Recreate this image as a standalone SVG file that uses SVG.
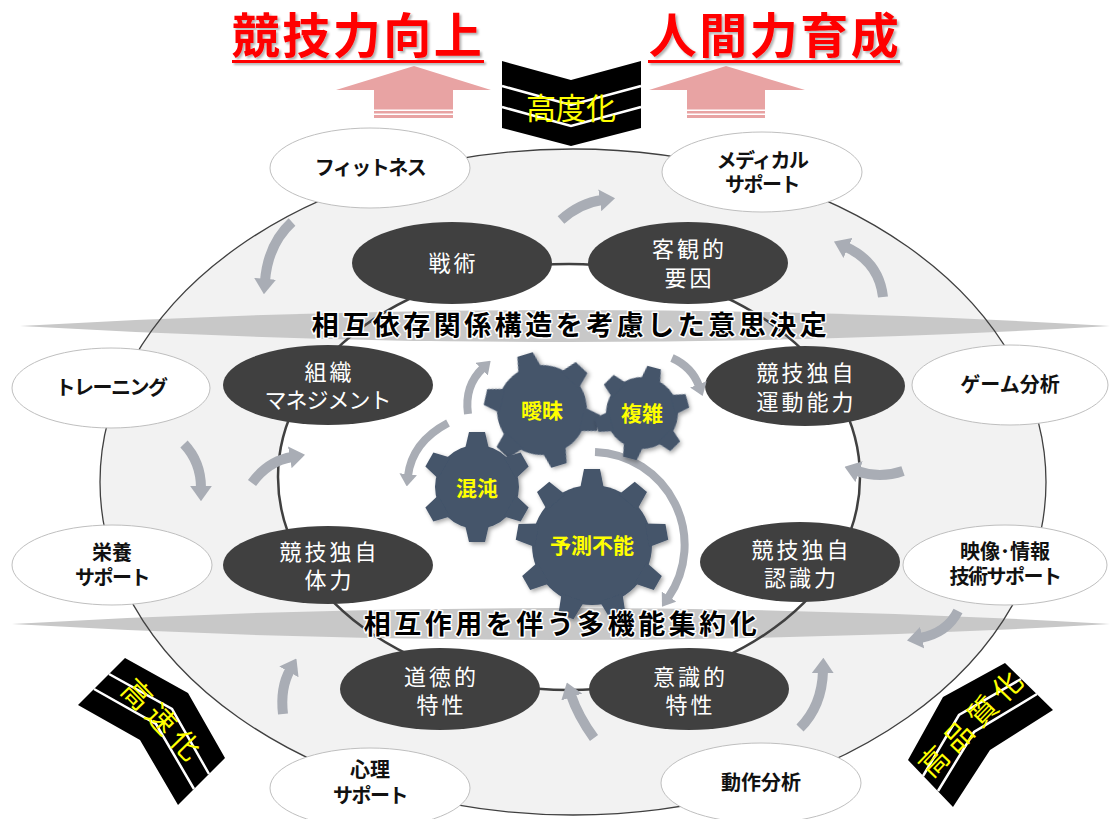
<svg xmlns="http://www.w3.org/2000/svg" xmlns:xlink="http://www.w3.org/1999/xlink" width="1110" height="819" viewBox="0 0 1110 819">
  <defs>
    <style>
      text { font-family: "Liberation Sans", "Noto Sans CJK JP", sans-serif; text-anchor: middle; dominant-baseline: central; }
      .wn { fill: #ffffff; stroke: #bfbfbf; stroke-width: 1; }
      .dn { fill: #404040; }
      .wt { font-size: 20px; font-weight: bold; fill: #111111; }
      .kt { letter-spacing: -1.5px; }
      .dt { font-size: 22px; fill: #ffffff; letter-spacing: 3px; }
      .dt.tight { letter-spacing: -1px; }
      .gear { fill: #44546a; }
      .gt { font-size: 21px; font-weight: bold; fill: #ffff00; }
      .arr { fill: none; stroke: #a9adb5; stroke-width: 10; marker-end: url(#ah); }
      .arr-s { stroke-width: 8; }
      .band { fill: #c8c8c8; }
      .bt { font-size: 27px; font-weight: bold; fill: #000000; letter-spacing: 3.5px; stroke: #ffffff; stroke-width: 3; paint-order: stroke; stroke-linejoin: round; }
      .title { font-size: 48px; font-weight: bold; fill: #ff0000; letter-spacing: 2.5px; }
      .uline { fill: #ff0000; }
      .pink { fill: #e8a3a3; }
      .road { fill: #000000; }
      .lane { fill: none; stroke: #ffffff; stroke-width: 2.5; }
      .rt { font-size: 29px; fill: #ffff00; letter-spacing: 6px; }
    </style>
    <marker id="ah" viewBox="0 0 7 10" refX="1" refY="5" markerWidth="1.54" markerHeight="2.2" orient="auto">
      <path d="M0,0 L7,5 L0,10 Z" fill="#a9adb5"/>
    </marker>
    <filter id="gs" x="-20%" y="-20%" width="150%" height="150%">
      <feDropShadow dx="2" dy="2" stdDeviation="2" flood-color="#000" flood-opacity="0.35"/>
    </filter>
    <filter id="ts" x="-10%" y="-20%" width="120%" height="150%">
      <feDropShadow dx="2" dy="2" stdDeviation="1.2" flood-color="#000" flood-opacity="0.3"/>
    </filter>
  </defs>

  <rect width="1110" height="819" fill="#ffffff"/>

  <!-- headline goals -->
  <g id="title-left" filter="url(#ts)">
    <text class="title" x="358" y="36">競技力向上</text>
    <rect class="uline" x="232" y="60" width="252" height="3"/>
  </g>
  <g id="title-right" filter="url(#ts)">
    <text class="title" x="775" y="36">人間力育成</text>
    <rect class="uline" x="648" y="60" width="252" height="3"/>
  </g>

  <!-- upward block arrows -->
  <g id="up-arrow-left">
    <polygon class="pink" points="414,66 491,90 453,90 453,118 374,118 374,90 336,90"/>
    <rect x="374" y="109.5" width="79" height="1.5" fill="#fff"/>
    <rect x="374" y="113.5" width="79" height="1.5" fill="#fff"/>
  </g>
  <g id="up-arrow-right">
    <polygon class="pink" points="726,66 805,90 765,90 765,118 687,118 687,90 649,90"/>
    <rect x="687" y="109.5" width="78" height="1.5" fill="#fff"/>
    <rect x="687" y="113.5" width="78" height="1.5" fill="#fff"/>
  </g>

  <!-- chevron 高度化 -->
  <g id="chevron-koudoka">
    <polygon fill="#000" points="502,61 571,80 641,61 641,128 571,146 502,128"/>
    <polyline class="lane" stroke-width="2.2" points="502,86 571,105 641,86"/>
    <polyline class="lane" stroke-width="2.2" points="502,107 571,126 641,107"/>
    <text x="571" y="108" font-size="30" fill="#ffff00">高度化</text>
  </g>

  <!-- rings: fills -->
  <ellipse cx="573" cy="482" rx="473" ry="333" fill="#f2f2f2"/>
  <ellipse cx="569" cy="477" rx="291" ry="213" fill="#ffffff"/>

  <!-- tapered bands -->
  <path class="band" d="M20,326 Q570,294 1110,326 Q570,358 20,326 Z"/>
  <path class="band" d="M12,624 Q560,592 1110,624 Q560,656 12,624 Z"/>

  <!-- rings: outlines -->
  <ellipse cx="573" cy="482" rx="473" ry="333" fill="none" stroke="#404040" stroke-width="1.3"/>
  <ellipse cx="569" cy="477" rx="291" ry="213" fill="none" stroke="#404040" stroke-width="2.5"/>

  <!-- roads -->
  <g id="road-kousokuka">
    <polygon class="road" points="125,658 188,693 225,758 178,805 140,740 78,705"/>
    <polyline class="lane" points="109,674 172,709 209,774"/>
    <polyline class="lane" points="94,689 156,724 194,789"/>
    <text class="rt" x="163" y="722" transform="rotate(46 163 722)">高速化</text>
  </g>
  <g id="road-kouhinshitsuka">
    <polygon class="road" points="1005,663 1053,710 990,750 953,807 908,760 943,697"/>
    <polyline class="lane" points="1021,679 959,715 923,776"/>
    <polyline class="lane" points="1037,694 974,732 938,791"/>
    <text class="rt" x="973" y="722" transform="rotate(-46 973 722)">高品質化</text>
  </g>

  <!-- outer support nodes -->
  <g id="n-fitness"><ellipse class="wn" cx="370" cy="168" rx="100" ry="40"/><text class="wt kt" x="370" y="168">フィットネス</text></g>
  <g id="n-medical"><ellipse class="wn" cx="762" cy="172" rx="100" ry="40"/><text class="wt kt" x="762" y="161">メディカル</text><text class="wt kt" x="762" y="185">サポート</text></g>
  <g id="n-training"><ellipse class="wn" cx="111" cy="388" rx="99" ry="40"/><text class="wt kt" x="111" y="388">トレーニング</text></g>
  <g id="n-game"><ellipse class="wn" cx="1010" cy="385" rx="98" ry="40"/><text class="wt" x="1010" y="385">ゲーム分析</text></g>
  <g id="n-nutrition"><ellipse class="wn" cx="112" cy="565" rx="100" ry="40"/><text class="wt" x="112" y="553">栄養</text><text class="wt kt" x="112" y="578">サポート</text></g>
  <g id="n-video"><ellipse class="wn" cx="1005" cy="565" rx="102" ry="40"/><text class="wt" x="1005" y="552">映像･情報</text><text class="wt kt" x="1005" y="577">技術サポート</text></g>
  <g id="n-mental"><ellipse class="wn" cx="370" cy="788" rx="100" ry="40"/><text class="wt" x="370" y="770">心理</text><text class="wt kt" x="370" y="796">サポート</text></g>
  <g id="n-motion"><ellipse class="wn" cx="761" cy="783" rx="100" ry="40"/><text class="wt" x="761" y="783">動作分析</text></g>

  <!-- inner capability nodes -->
  <g id="n-tactics"><ellipse class="dn" cx="452" cy="263" rx="100" ry="41"/><text class="dt" x="453.5" y="263">戦術</text></g>
  <g id="n-objective"><ellipse class="dn" cx="688" cy="263" rx="100" ry="41"/><text class="dt" x="689.5" y="249">客観的</text><text class="dt" x="689.5" y="278">要因</text></g>
  <g id="n-organization"><ellipse class="dn" cx="328" cy="385" rx="105" ry="40"/><text class="dt" x="329.5" y="372">組織</text><text class="dt tight" x="327.5" y="400">マネジメント</text></g>
  <g id="n-motor"><ellipse class="dn" cx="805" cy="386" rx="100" ry="40"/><text class="dt" x="806.5" y="373">競技独自</text><text class="dt" x="806.5" y="402">運動能力</text></g>
  <g id="n-physical"><ellipse class="dn" cx="328" cy="565" rx="105" ry="39"/><text class="dt" x="329.5" y="552">競技独自</text><text class="dt" x="329.5" y="580">体力</text></g>
  <g id="n-cognition"><ellipse class="dn" cx="800" cy="562" rx="100" ry="40"/><text class="dt" x="801.5" y="550">競技独自</text><text class="dt" x="801.5" y="578">認識力</text></g>
  <g id="n-moral"><ellipse class="dn" cx="440" cy="689" rx="100" ry="41"/><text class="dt" x="441.5" y="677">道徳的</text><text class="dt" x="441.5" y="705">特性</text></g>
  <g id="n-conscious"><ellipse class="dn" cx="689" cy="689" rx="100" ry="41"/><text class="dt" x="690.5" y="677">意識的</text><text class="dt" x="690.5" y="705">特性</text></g>

  <!-- cycle arrows -->
  <g id="connectors">
    <path class="arr" d="M561,220 Q580,203 602,200"/>
    <path class="arr" d="M292,222 Q268,244 265,281"/>
    <path class="arr" d="M883,297 Q879,262 846,247"/>
    <path class="arr" d="M184,444 Q201,462 201,488"/>
    <path class="arr" d="M252,483 Q268,461 292,457"/>
    <path class="arr" d="M903,471 Q880,479 857,471"/>
    <path class="arr" d="M958,611 Q947,633 920,638"/>
    <path class="arr" d="M283,714 Q280,688 290,670"/>
    <path class="arr" d="M594,738 Q578,716 571,695"/>
    <path class="arr" d="M800,728 Q822,706 823,671"/>
    <path class="arr arr-s" d="M468,414 Q464,386 483,368"/>
    <path class="arr arr-s" d="M448,423 Q412,442 408,476"/>
    <path class="arr arr-s" d="M672,358 Q692,367 699,386"/>
    <path class="arr arr-s" d="M595,452 A93,93 0 0 1 668,598"/>
  </g>

  <!-- gears -->
  <g id="g-aimai">
    <g transform="translate(542,410) rotate(-17)" filter="url(#gs)">
      <circle class="gear" r="45"/>
      <polygon id="t6a" class="gear" points="-12,-41 -8,-58 8,-58 12,-41"/>
      <use xlink:href="#t6a" href="#t6a" transform="rotate(60)"/>
      <use xlink:href="#t6a" href="#t6a" transform="rotate(120)"/>
      <use xlink:href="#t6a" href="#t6a" transform="rotate(180)"/>
      <use xlink:href="#t6a" href="#t6a" transform="rotate(240)"/>
      <use xlink:href="#t6a" href="#t6a" transform="rotate(300)"/>
    </g>
    <text class="gt" x="542" y="410">曖昧</text>
  </g>
  <g id="g-fukuzatsu">
    <g transform="translate(642,413) rotate(15)" filter="url(#gs)">
      <circle class="gear" r="36"/>
      <polygon id="t6b" class="gear" points="-10,-32 -7,-47 7,-47 10,-32"/>
      <use xlink:href="#t6b" href="#t6b" transform="rotate(60)"/>
      <use xlink:href="#t6b" href="#t6b" transform="rotate(120)"/>
      <use xlink:href="#t6b" href="#t6b" transform="rotate(180)"/>
      <use xlink:href="#t6b" href="#t6b" transform="rotate(240)"/>
      <use xlink:href="#t6b" href="#t6b" transform="rotate(300)"/>
    </g>
    <text class="gt" x="642" y="413">複雑</text>
  </g>
  <g id="g-konton">
    <g transform="translate(477,487)" filter="url(#gs)">
      <circle class="gear" r="42"/>
      <polygon id="t6c" class="gear" points="-12,-38 -8,-55 8,-55 12,-38"/>
      <use xlink:href="#t6c" href="#t6c" transform="rotate(60)"/>
      <use xlink:href="#t6c" href="#t6c" transform="rotate(120)"/>
      <use xlink:href="#t6c" href="#t6c" transform="rotate(180)"/>
      <use xlink:href="#t6c" href="#t6c" transform="rotate(240)"/>
      <use xlink:href="#t6c" href="#t6c" transform="rotate(300)"/>
    </g>
    <text class="gt" x="477" y="488">混沌</text>
  </g>
  <g id="g-yosokufunou">
    <g transform="translate(592,545)" filter="url(#gs)">
      <circle class="gear" r="60"/>
      <polygon id="t9" class="gear" points="-12,-56 -8,-76 8,-76 12,-56"/>
      <use xlink:href="#t9" href="#t9" transform="rotate(40)"/>
      <use xlink:href="#t9" href="#t9" transform="rotate(80)"/>
      <use xlink:href="#t9" href="#t9" transform="rotate(120)"/>
      <use xlink:href="#t9" href="#t9" transform="rotate(160)"/>
      <use xlink:href="#t9" href="#t9" transform="rotate(200)"/>
      <use xlink:href="#t9" href="#t9" transform="rotate(240)"/>
      <use xlink:href="#t9" href="#t9" transform="rotate(280)"/>
      <use xlink:href="#t9" href="#t9" transform="rotate(320)"/>
    </g>
    <text class="gt" x="592" y="545">予測不能</text>
  </g>

  <!-- band captions -->
  <text id="caption-top" class="bt" x="571" y="326">相互依存関係構造を考慮した意思決定</text>
  <text id="caption-bottom" class="bt" x="562" y="625">相互作用を伴う多機能集約化</text>
</svg>
